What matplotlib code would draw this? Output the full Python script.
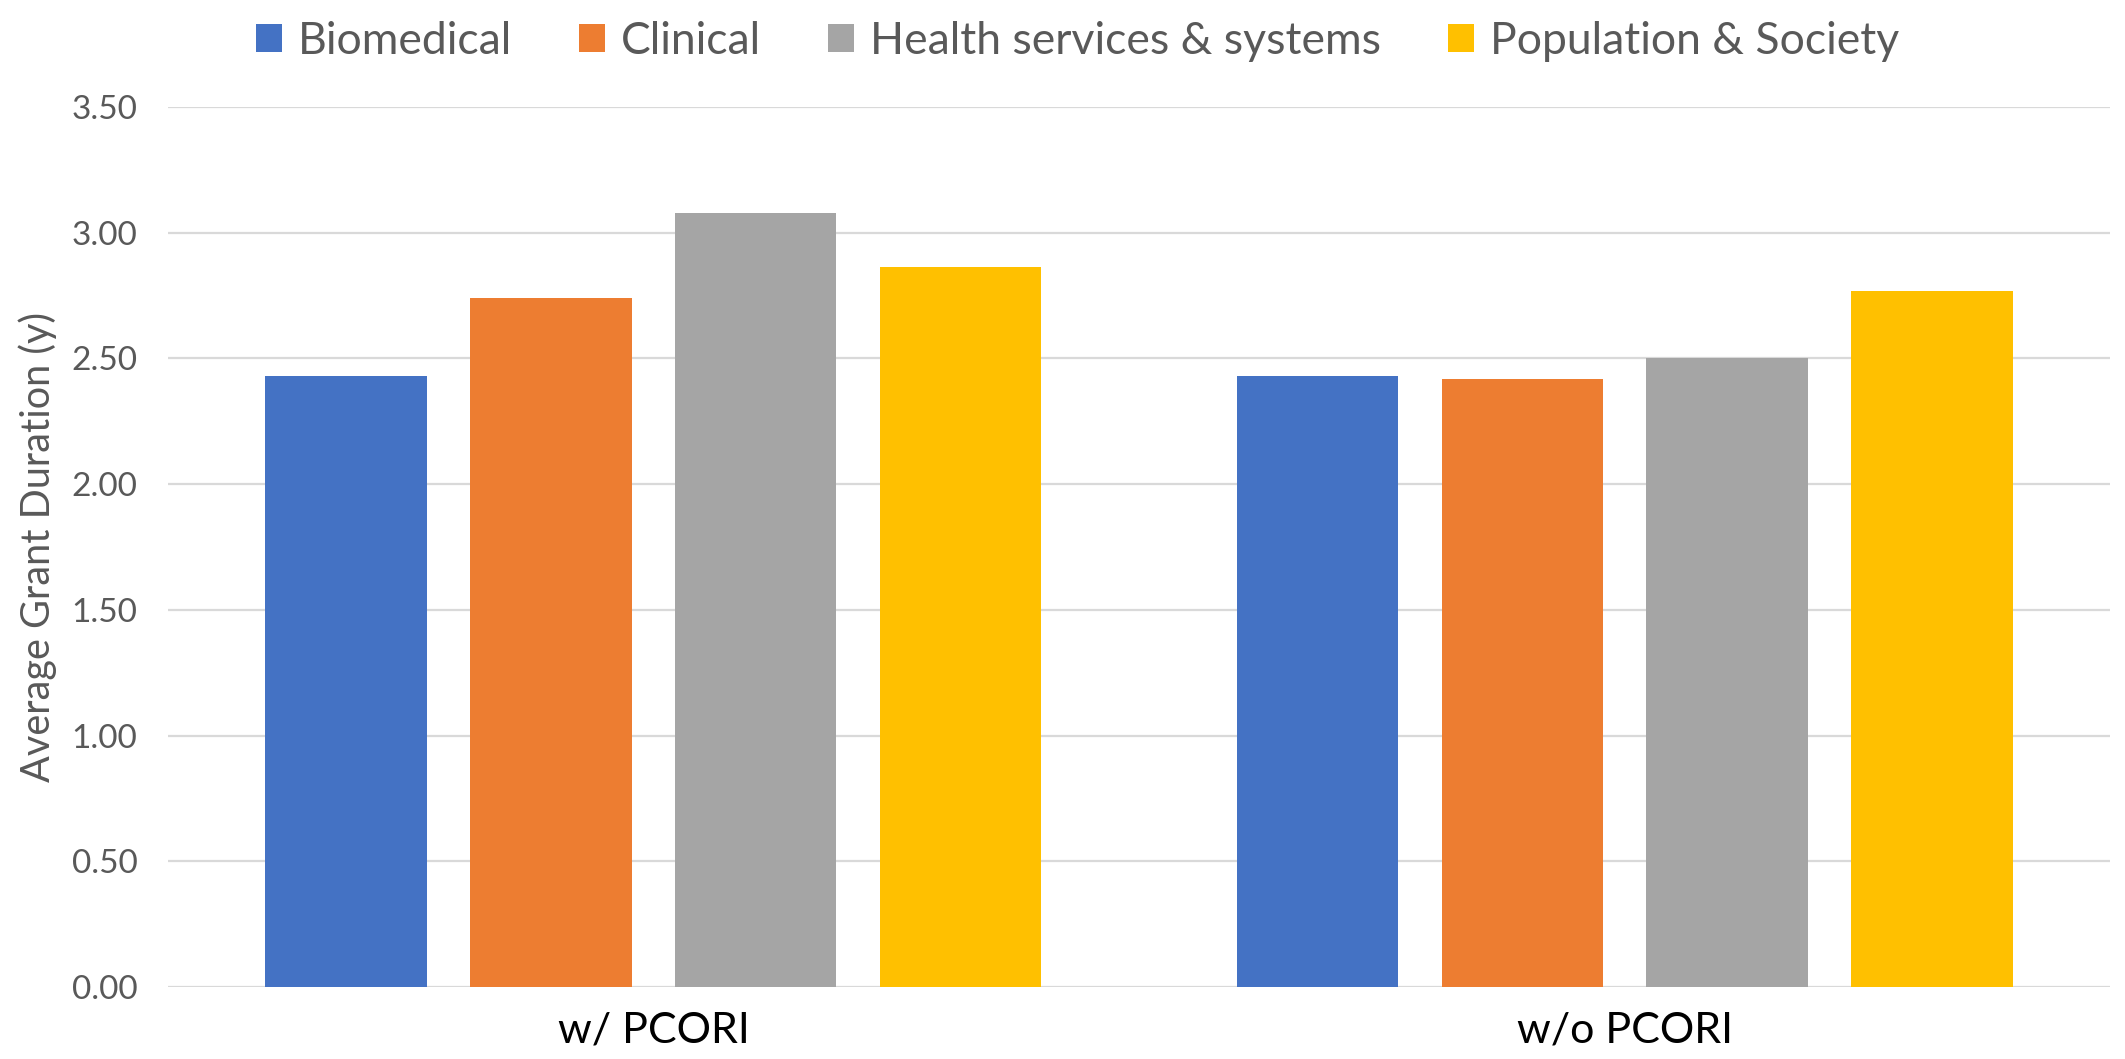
import numpy as np
import matplotlib.pyplot as plt

groups = ['w/ PCORI', 'w/o PCORI']
series = ['Biomedical', 'Clinical', 'Health services & systems', 'Population & Society']
biomedical = [2.43, 2.43]
clinical = [2.74, 2.42]
health = [3.08, 2.50]
population = [2.865, 2.77]
colors = ['#4472C4', '#ED7D31', '#A5A5A5', '#FFC000']

plt.rcParams['font.family'] = ['Lato', 'DejaVu Sans']

fig = plt.figure(figsize=(21.25, 10.59), dpi=100)
ax = fig.add_axes([0.079, 0.068, 0.914, 0.831])

x = np.arange(len(groups))
width = 0.166
pitch = 0.211
for i, (vals, name) in enumerate(zip([biomedical, clinical, health, population], series)):
    ax.bar(x + (i - 1.5) * pitch, vals, width, color=colors[i], label=name, zorder=3)

ax.set_xlim(-0.5, 1.5)
ax.set_ylim(0, 3.5)
ax.set_yticks(np.arange(0, 3.51, 0.5))
ax.set_yticklabels([f'{v:.2f}' for v in np.arange(0, 3.51, 0.5)], color='#595959', fontsize=24)
ax.set_xticks(x)
ax.set_xticklabels(groups, fontsize=31, color='#000000')
ax.tick_params(axis='both', length=0)
ax.tick_params(axis='y', pad=22)
ax.tick_params(axis='x', pad=18)
ax.grid(axis='y', color='#D9D9D9', linewidth=1.6, zorder=0)
for s in ax.spines.values():
    s.set_visible(False)
ax.set_ylabel('Average Grant Duration (y)', fontsize=28.5, color='#595959', labelpad=10)

fig.legend(loc='upper center', bbox_to_anchor=(0.507, 1.018), ncol=4, frameon=False,
           fontsize=32, labelcolor='#595959', handlelength=0.6, handleheight=0.6,
           handletextpad=0.35, columnspacing=1.5)

fig.savefig('out.png', dpi=100)
